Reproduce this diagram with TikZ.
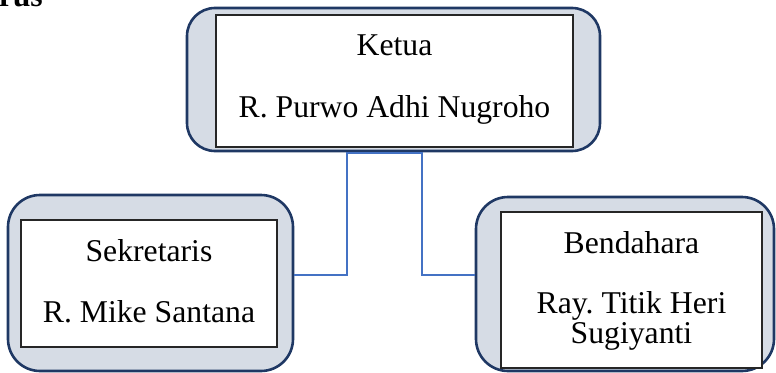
\documentclass[tikz,border=0pt]{standalone}
\usepackage{fontspec}
\setmainfont{Liberation Serif}
\definecolor{navy}{HTML}{1F3864}
\definecolor{boxfill}{HTML}{D6DCE5}
\definecolor{connblue}{HTML}{4472C4}
\frenchspacing
\begin{document}
\begin{tikzpicture}[x=1pt,y=-1pt,
  outerbox/.style={draw=navy, line width=2.6pt, fill=boxfill, rounded corners=#1, minimum width=0pt, minimum height=0pt, inner sep=0pt},
  innerbox/.style={draw=black!85, line width=1.1pt, fill=white, inner sep=0pt},
  lbl/.style={anchor=base, inner sep=0pt, font=\fontsize{31.7}{30}\selectfont},
  conn/.style={draw=connblue, line width=2.4pt}]
\useasboundingbox (0,0) rectangle (776,372);
\clip (0,0) rectangle (776,372);
% heading fragment
\node[anchor=base east, inner sep=0pt, font=\fontsize{31.7}{30}\selectfont\bfseries] (head) at (43,6) {rus};
% joint coordinates
\coordinate (jl) at (347,275);
\coordinate (jtl) at (347,153);
\coordinate (jtr) at (422,153);
\coordinate (jr) at (422,275);
% outer boxes (as nodes)
\node[outerbox=28pt, minimum width=413pt, minimum height=143pt] (kout) at (393.5,79.5) {};
\node[outerbox=32pt, minimum width=285pt, minimum height=176pt] (sout) at (150.5,283) {};
\node[outerbox=32pt, minimum width=298pt, minimum height=174pt] (bout) at (625,284) {};
% connectors
\draw[conn] (sout.east |- jl) -- (jl) -- (jtl) -- (jtr) -- (jr) -- (bout.west |- jr);
% inner boxes
\node[innerbox, minimum width=357pt, minimum height=132pt] (kin) at (394.5,81) {};
\node[innerbox, minimum width=256pt, minimum height=127pt] (sin) at (149,283.5) {};
\node[innerbox, minimum width=261pt, minimum height=156pt] (bin) at (631.5,290) {};
% texts
\node[lbl] (k1) at (394.5,55) {Ketua};
\node[lbl] (k2) at (394.5,117) {R. Purwo Adhi Nugroho};
\node[lbl] (s1) at (149,261) {Sekretaris};
\node[lbl] (s2) at (149,322) {R. Mike Santana};
\node[lbl] (b1) at (631.5,253) {Bendahara};
\node[lbl] (b2) at (631.5,313) {Ray. Titik Heri};
\node[lbl] (b3) at (631.5,343) {Sugiyanti};
\end{tikzpicture}
\end{document}
